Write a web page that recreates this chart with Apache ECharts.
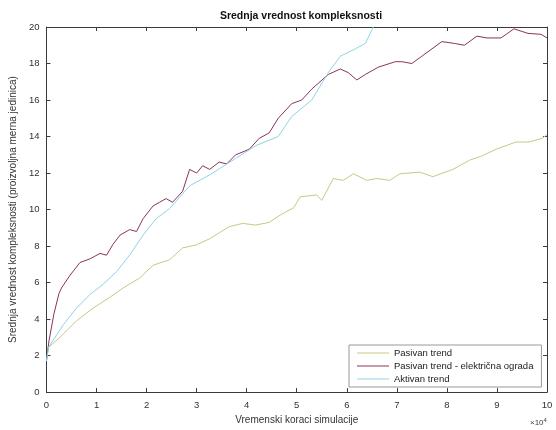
<!DOCTYPE html>
<html><head><meta charset="utf-8">
<script src="https://cdn.jsdelivr.net/npm/echarts@6/dist/echarts.min.js"></script>
<style>html,body{margin:0;padding:0;background:#fff}#c{width:556px;height:430px}</style>
</head><body><div id="c"></div>
<script>
// x values are in units of 10^4 simulation steps
const titleText = 'Srednja vrednost kompleksnosti';
const xAxisName = 'Vremenski koraci simulacije';
const yAxisName = 'Srednja vrednost kompleksnosti (proizvoljna merna jedinica)';
const seriesNames = ['Pasivan trend', 'Pasivan trend - električna ograda', 'Aktivan trend'];
const xTicks = [0,1,2,3,4,5,6,7,8,9,10];
const yTicks = [0,2,4,6,8,10,12,14,16,18,20];

const xPasivan = [0,0.04,0.27,0.6,0.93,1.27,1.53,1.86,2.13,2.46,2.72,2.99,3.26,3.65,3.92,4.18,4.45,4.67,4.94,5.07,5.4,5.5,5.73,5.93,6.13,6.4,6.6,6.86,7.06,7.46,7.72,8.12,8.45,8.71,8.98,9.38,9.64,9.9,10];
const yPasivan = [1.7,2.45,3.0,3.9,4.6,5.2,5.7,6.25,6.95,7.25,7.9,8.06,8.4,9.06,9.24,9.15,9.3,9.7,10.1,10.7,10.8,10.5,11.7,11.6,11.96,11.6,11.7,11.6,11.96,12.05,11.8,12.2,12.7,12.95,13.3,13.7,13.7,13.9,14.1];

const xOgrada = [0,0.05,0.15,0.25,0.3,0.47,0.67,0.87,1.07,1.2,1.33,1.47,1.66,1.8,1.93,2.13,2.26,2.39,2.52,2.72,2.86,3.0,3.12,3.26,3.45,3.6,3.78,4.05,4.25,4.45,4.63,4.9,5.1,5.3,5.63,5.87,6.03,6.2,6.37,6.63,6.97,7.1,7.3,7.5,7.9,8.15,8.35,8.6,8.8,9.08,9.34,9.62,9.88,10];
const yOgrada = [1.75,2.8,4.3,5.4,5.7,6.4,7.1,7.3,7.6,7.5,8.1,8.6,8.9,8.8,9.5,10.2,10.4,10.6,10.4,11.0,12.2,12.0,12.4,12.2,12.6,12.5,13.0,13.3,13.9,14.2,15.0,15.8,16.0,16.6,17.4,17.7,17.5,17.1,17.4,17.8,18.1,18.1,18.0,18.4,19.2,19.1,19.0,19.5,19.4,19.4,19.9,19.65,19.6,19.4];

const xAktivan = [0,0.04,0.34,0.6,0.87,1.13,1.4,1.66,1.93,2.19,2.46,2.86,3.26,3.78,4.18,4.63,4.9,5.3,5.63,5.87,6.17,6.37,6.53];
const yAktivan = [1.7,2.45,3.7,4.6,5.35,5.9,6.6,7.5,8.6,9.5,10.05,11.3,11.9,12.8,13.5,14.0,15.1,16.0,17.5,18.4,18.8,19.1,20.0];

const colors = ['#c4cb86', '#8c3458', '#8fd2e6'];
const pair = (xs, ys) => xs.map((x, i) => [x, ys[i]]);
const font = 'Liberation Sans, Arial, Helvetica, sans-serif';
const axisCol = '#3a3a3a';

const chart = echarts.init(document.getElementById('c'), null, {renderer: 'canvas'});
const baseX = {
  type: 'value', min: 0, max: 10, interval: 1,
  axisLine: {show: true, onZero: false, lineStyle: {color: axisCol, width: 1}},
  axisTick: {show: true, inside: true, length: 4, lineStyle: {color: axisCol}},
  splitLine: {show: false}
};
const baseY = {
  type: 'value', min: 0, max: 20, interval: 2,
  axisLine: {show: true, onZero: false, lineStyle: {color: axisCol, width: 1}},
  axisTick: {show: true, inside: true, length: 4, lineStyle: {color: axisCol}},
  splitLine: {show: false}
};
chart.setOption({
  animation: false,
  backgroundColor: '#ffffff',
  color: colors,
  title: {
    text: titleText, left: 296, top: 6, textAlign: 'center',
    textStyle: {fontFamily: font, fontSize: 10.5, fontWeight: 'bold', color: '#111'}
  },
  grid: {left: 43, right: 9, top: 27, bottom: 35},
  xAxis: [
    Object.assign({}, baseX, {
      position: 'bottom',
      axisLabel: {show: true, margin: 8, fontFamily: font, fontSize: 9.5, color: '#333',
        formatter: v => xTicks.includes(v) ? String(v) : ''},
      name: xAxisName, nameLocation: 'middle', nameGap: 22,
      nameTextStyle: {fontFamily: font, fontSize: 10, color: '#333'}
    }),
    Object.assign({}, baseX, {position: 'top', axisLabel: {show: false}})
  ],
  yAxis: [
    Object.assign({}, baseY, {
      position: 'left',
      axisLabel: {show: true, margin: 7, fontFamily: font, fontSize: 9.5, color: '#333',
        formatter: v => yTicks.includes(v) ? String(v) : ''},
      name: yAxisName, nameLocation: 'middle', nameGap: 27, nameRotate: 90,
      nameTextStyle: {fontFamily: font, fontSize: 10, color: '#333'}
    }),
    Object.assign({}, baseY, {position: 'right', axisLabel: {show: false}})
  ],
  legend: {
    show: true, orient: 'vertical', left: 349, top: 345,
    icon: 'rect', itemWidth: 32, itemHeight: 1, itemGap: 3,
    padding: [3, 8, 3, 8],
    backgroundColor: '#fff', borderColor: '#999', borderWidth: 1,
    textStyle: {fontFamily: font, fontSize: 9.5, color: '#222'},
    data: seriesNames
  },
  graphic: [{
    type: 'text', left: 530, top: 417,
    style: {
      text: '{a|×10}{b|4}',
      rich: {
        a: {fontFamily: font, fontSize: 8, fill: '#444'},
        b: {fontFamily: font, fontSize: 6, fill: '#444', verticalAlign: 'top', padding: [0,0,6,0]}
      }
    }
  }],
  series: [
    {name: seriesNames[0], type: 'line', data: pair(xPasivan, yPasivan), showSymbol: false, clip: true,
      lineStyle: {width: 1, color: colors[0]}, itemStyle: {color: colors[0]}},
    {name: seriesNames[1], type: 'line', data: pair(xOgrada, yOgrada), showSymbol: false, clip: true,
      lineStyle: {width: 1, color: colors[1]}, itemStyle: {color: colors[1]}},
    {name: seriesNames[2], type: 'line', data: pair(xAktivan, yAktivan), showSymbol: false, clip: true,
      lineStyle: {width: 1, color: colors[2]}, itemStyle: {color: colors[2]}}
  ]
});
</script>
</body></html>
